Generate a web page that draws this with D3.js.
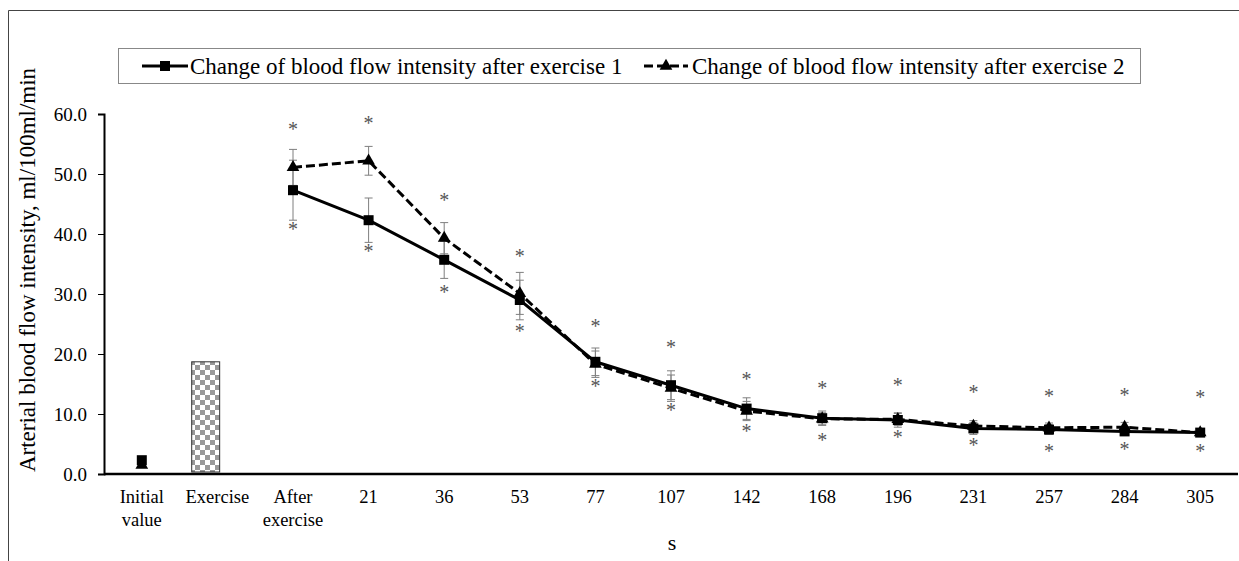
<!DOCTYPE html>
<html><head><meta charset="utf-8">
<script src="https://cdn.jsdelivr.net/npm/d3@7/dist/d3.min.js"></script>
<style>body{margin:0;background:#fff}svg{display:block}text{font-family:"Liberation Serif","Times New Roman",serif}</style>
</head><body><svg id="c" width="1239" height="561"></svg>
<script>
const categories = ["Initial value","Exercise","After exercise","21","36","53","77","107","142","168","196","231","257","284","305"];
const series1 = [2.3, null, 47.3, 42.3, 35.7, 29.0, 18.7, 14.8, 10.9, 9.3, 9.0, 7.6, 7.4, 7.1, 6.9];
const series2 = [1.5, null, 51.1, 52.2, 39.3, 30.1, 18.3, 14.3, 10.5, 9.2, 9.1, 8.0, 7.7, 7.8, 6.9];
const err1 = [0.3, null, 5.0, 3.7, 3.1, 3.3, 2.3, 2.4, 1.8, 1.2, 1.2, 1.0, 0.8, 0.6, 0.5];
const err2 = [0.3, null, 3.0, 2.4, 2.6, 3.5, 2.2, 2.2, 1.6, 1.0, 1.0, 0.9, 0.8, 0.8, 0.5];
const exerciseBar = [null, 18.7, null, null, null, null, null, null, null, null, null, null, null, null, null];
const starAbove = [null, null, 58.0, 59.0, 46.2, 36.8, 25.2, 21.6, 16.4, 14.9, 15.4, 14.1, 13.5, 13.7, 13.4];
const starBelow = [null, null, 41.3, 37.6, 30.9, 24.3, 15.2, 11.2, 7.6, 6.1, 6.6, 5.4, 4.4, 4.7, 4.4];
const yTicks = [0, 10, 20, 30, 40, 50, 60];
const seriesNames = ["Change of blood flow intensity after exercise 1", "Change of blood flow intensity after exercise 2"];
const yTitle = "Arterial blood flow intensity, ml/100ml/min";
const xTitle = "s";

const svg = d3.select("#c");
const L = 104, R = 1238, T = 114, B = 474;
const x = d3.scaleBand().domain(categories).range([L, R]).padding(0);
const y = d3.scaleLinear().domain([0, 60]).range([B, T]);
const bw = x.bandwidth();
const cx = c => x(c) + bw / 2;

// outer frame
svg.append("path").attr("d", "M8.5,561 L8.5,10.5 L1239,10.5").attr("fill", "none").attr("stroke", "#444").attr("stroke-width", 1);

// pattern
const defs = svg.append("defs");
const pat = defs.append("pattern").attr("id", "chk").attr("patternUnits", "userSpaceOnUse").attr("width", 10).attr("height", 10);
pat.append("rect").attr("width", 10).attr("height", 10).attr("fill", "#fff");
pat.append("rect").attr("width", 5).attr("height", 5).attr("fill", "#999");
pat.append("rect").attr("x", 5).attr("y", 5).attr("width", 5).attr("height", 5).attr("fill", "#999");

// bar
categories.forEach((c, i) => {
  if (exerciseBar[i] == null) return;
  svg.append("rect").attr("x", x(c) + bw * 0.16).attr("width", bw * 0.37)
    .attr("y", y(exerciseBar[i])).attr("height", y(0) - y(exerciseBar[i]) - 2)
    .attr("fill", "url(#chk)").attr("stroke", "#333").attr("stroke-width", 1);
});

// y axis
const yAxis = d3.axisLeft(y).tickValues(yTicks).tickFormat(d3.format(".1f")).tickSize(6).tickPadding(11);
const ya = svg.append("g").attr("transform", `translate(${L},0)`).call(yAxis);
ya.select(".domain").attr("stroke", "#000").attr("stroke-width", 2);
ya.selectAll(".tick line").attr("stroke", "#000");
ya.selectAll(".tick text").attr("font-size", 19).attr("fill", "#000").style("font-family", "Liberation Serif");

// x axis
const xAxis = d3.axisBottom(x).tickSize(0).tickPadding(0).tickFormat("");
const xa = svg.append("g").attr("transform", `translate(0,${B})`).call(xAxis);
xa.select(".domain").attr("stroke", "#000").attr("stroke-width", 2.5).attr("d", `M${L},0H${R}`);
categories.forEach(c => {
  const t = svg.append("text").attr("x", cx(c)).attr("y", 503).attr("text-anchor", "middle").attr("font-size", 18.5).attr("fill", "#000");
  const words = c.split(" ");
  if (words.length > 1) {
    t.append("tspan").attr("x", cx(c)).attr("dy", 0).text(words[0]);
    t.append("tspan").attr("x", cx(c)).attr("dy", 23).text(words.slice(1).join(" "));
  } else t.text(c);
});

// titles
svg.append("text").attr("transform", "translate(35,270) rotate(-90)").attr("text-anchor", "middle").attr("font-size", 23).attr("fill", "#000").text(yTitle);
svg.append("text").attr("x", 672).attr("y", 550).attr("text-anchor", "middle").attr("font-size", 22).attr("fill", "#000").text(xTitle);

// error bars
function errBars(vals, errs) {
  categories.forEach((c, i) => {
    if (vals[i] == null || i < 2) return;
    const g = svg.append("g").attr("stroke", "#7f7f7f").attr("stroke-width", 1);
    const xx = cx(c);
    g.append("line").attr("x1", xx).attr("x2", xx).attr("y1", y(vals[i] + errs[i])).attr("y2", y(vals[i] - errs[i]));
    [vals[i] + errs[i], vals[i] - errs[i]].forEach(v => g.append("line").attr("x1", xx - 4).attr("x2", xx + 4).attr("y1", y(v)).attr("y2", y(v)));
  });
}
errBars(series1, err1);
errBars(series2, err2);

// lines
const line = d3.line().defined(d => d.v != null).x(d => cx(d.c)).y(d => y(d.v));
const d1 = categories.map((c, i) => ({c, v: series1[i]}));
const d2 = categories.map((c, i) => ({c, v: series2[i]}));
svg.append("path").datum(d2).attr("d", line).attr("fill", "none").attr("stroke", "#000").attr("stroke-width", 3).attr("stroke-dasharray", "9,4");
svg.append("path").datum(d1).attr("d", line).attr("fill", "none").attr("stroke", "#000").attr("stroke-width", 3);

// markers
const tri = d3.symbol().type(d3.symbolTriangle).size(70);
d2.forEach(d => { if (d.v != null) svg.append("path").attr("d", tri()).attr("transform", `translate(${cx(d.c)},${y(d.v)})`).attr("fill", "#000"); });
d1.forEach(d => { if (d.v != null) svg.append("rect").attr("x", cx(d.c) - 5).attr("y", y(d.v) - 5).attr("width", 10).attr("height", 10).attr("fill", "#000"); });

// asterisks
function stars(arr) {
  categories.forEach((c, i) => {
    if (arr[i] == null) return;
    svg.append("text").attr("x", cx(c)).attr("y", y(arr[i]) + 10).attr("text-anchor", "middle").attr("font-size", 20).attr("fill", "#555").text("*");
  });
}
stars(starAbove);
stars(starBelow);

// legend
svg.append("rect").attr("x", 118.5).attr("y", 48.5).attr("width", 1022).attr("height", 35).attr("fill", "#fff").attr("stroke", "#888").attr("stroke-width", 1);
const ly = 66;
svg.append("line").attr("x1", 142).attr("x2", 188).attr("y1", ly).attr("y2", ly).attr("stroke", "#000").attr("stroke-width", 3);
svg.append("rect").attr("x", 160).attr("y", ly - 5).attr("width", 10).attr("height", 10).attr("fill", "#000");
svg.append("text").attr("x", 190).attr("y", 74).attr("font-size", 23).attr("fill", "#000").text(seriesNames[0]);
svg.append("line").attr("x1", 644).attr("x2", 688).attr("y1", ly).attr("y2", ly).attr("stroke", "#000").attr("stroke-width", 3).attr("stroke-dasharray", "9,4");
svg.append("path").attr("d", tri()).attr("transform", `translate(666,${ly})`).attr("fill", "#000");
svg.append("text").attr("x", 692).attr("y", 74).attr("font-size", 23).attr("fill", "#000").text(seriesNames[1]);
</script></body></html>
